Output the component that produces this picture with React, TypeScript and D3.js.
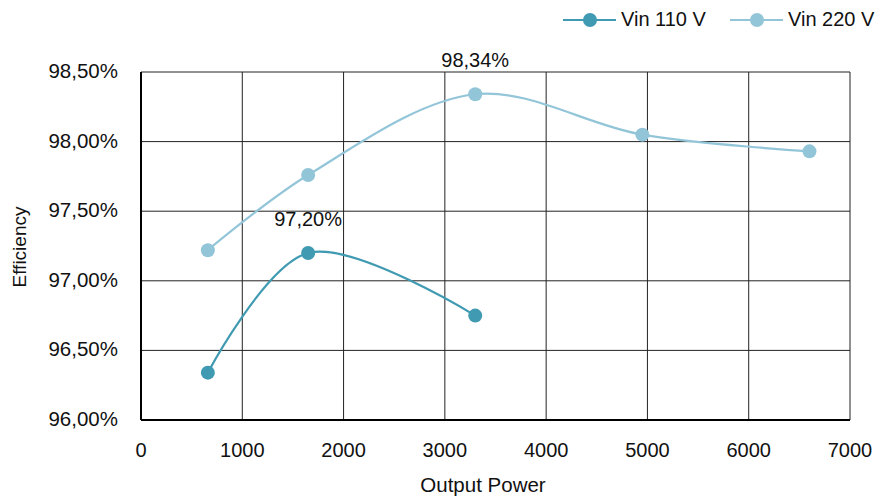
import React from "react";
import * as d3 from "d3";

const xTicks = [0, 1000, 2000, 3000, 4000, 5000, 6000, 7000];
const yTicks = [96.0, 96.5, 97.0, 97.5, 98.0, 98.5];
const power110 = [660, 1650, 3300];
const eff110 = [96.34, 97.2, 96.75];
const power220 = [660, 1650, 3300, 4950, 6600];
const eff220 = [97.22, 97.76, 98.34, 98.05, 97.93];
const seriesNames = ["Vin 110 V", "Vin 220 V"];
const colors = ["#3f9ab2", "#93c5d9"];

const W = 879;
const H = 502;
const left = 141;
const right = 850;
const top = 72;
const bottom = 420;
const font = "'Liberation Sans', Arial, Helvetica, sans-serif";

export default function App() {
  const x = d3.scaleLinear().domain([0, 7000]).range([left, right]);
  const y = d3.scaleLinear().domain([96, 98.5]).range([bottom, top]);
  const fmt = (v: number) => v.toFixed(2).replace(".", ",") + "%";
  const line = d3
    .line<[number, number]>()
    .x((d) => x(d[0]))
    .y((d) => y(d[1]))
    .curve(d3.curveCatmullRom.alpha(0.5));

  const s110: [number, number][] = power110.map((p, i) => [p, eff110[i]]);
  const s220: [number, number][] = power220.map((p, i) => [p, eff220[i]]);
  const series = [s110, s220];

  const max110 = d3.maxIndex(eff110);
  const max220 = d3.maxIndex(eff220);

  return (
    <svg
      width={W}
      height={H}
      style={{ position: "absolute", left: 0, top: 0, background: "#fff" }}
      fontFamily={font}
    >
      {/* grid */}
      {xTicks.map((t) => (
        <line key={"gx" + t} x1={x(t)} x2={x(t)} y1={top} y2={bottom} stroke="#222" strokeWidth={1} />
      ))}
      {yTicks.map((t) => (
        <line key={"gy" + t} x1={left} x2={right} y1={y(t)} y2={y(t)} stroke="#222" strokeWidth={1} />
      ))}
      {/* axes */}
      <line x1={left} x2={left} y1={top} y2={bottom} stroke="#000" strokeWidth={2} />
      <line x1={left} x2={right} y1={bottom} y2={bottom} stroke="#000" strokeWidth={2} />

      {/* tick labels */}
      {yTicks.map((t) => (
        <text key={"ty" + t} x={118} y={y(t) + 6} textAnchor="end" fontSize={20.5} fill="#111">
          {fmt(t)}
        </text>
      ))}
      {xTicks.map((t) => (
        <text key={"tx" + t} x={x(t)} y={457} textAnchor="middle" fontSize={20} fill="#111">
          {t}
        </text>
      ))}

      {/* axis titles */}
      <text x={483} y={492} textAnchor="middle" fontSize={20.5} fill="#111">
        Output Power
      </text>
      <text
        transform={`translate(26,247) rotate(-90)`}
        textAnchor="middle"
        fontSize={19}
        fill="#111"
      >
        Efficiency
      </text>

      {/* series */}
      {series.map((s, si) => (
        <g key={"s" + si}>
          <path d={line(s) || ""} fill="none" stroke={colors[si]} strokeWidth={2.2} />
          {s.map((d, i) => (
            <circle key={i} cx={x(d[0])} cy={y(d[1])} r={7} fill={colors[si]} />
          ))}
        </g>
      ))}

      {/* data labels */}
      <text x={x(power110[max110])} y={226} textAnchor="middle" fontSize={20} fill="#111">
        {fmt(eff110[max110])}
      </text>
      <text x={x(power220[max220])} y={67} textAnchor="middle" fontSize={20} fill="#111">
        {fmt(eff220[max220])}
      </text>

      {/* legend */}
      {seriesNames.map((n, i) => {
        const lx = 563 + i * 167;
        return (
          <g key={"lg" + i}>
            <line x1={lx} x2={lx + 53} y1={20} y2={20} stroke={colors[i]} strokeWidth={2.2} />
            <circle cx={lx + 27} cy={20} r={7} fill={colors[i]} />
            <text x={lx + 58} y={26} fontSize={20} fill="#111">
              {n}
            </text>
          </g>
        );
      })}
    </svg>
  );
}
